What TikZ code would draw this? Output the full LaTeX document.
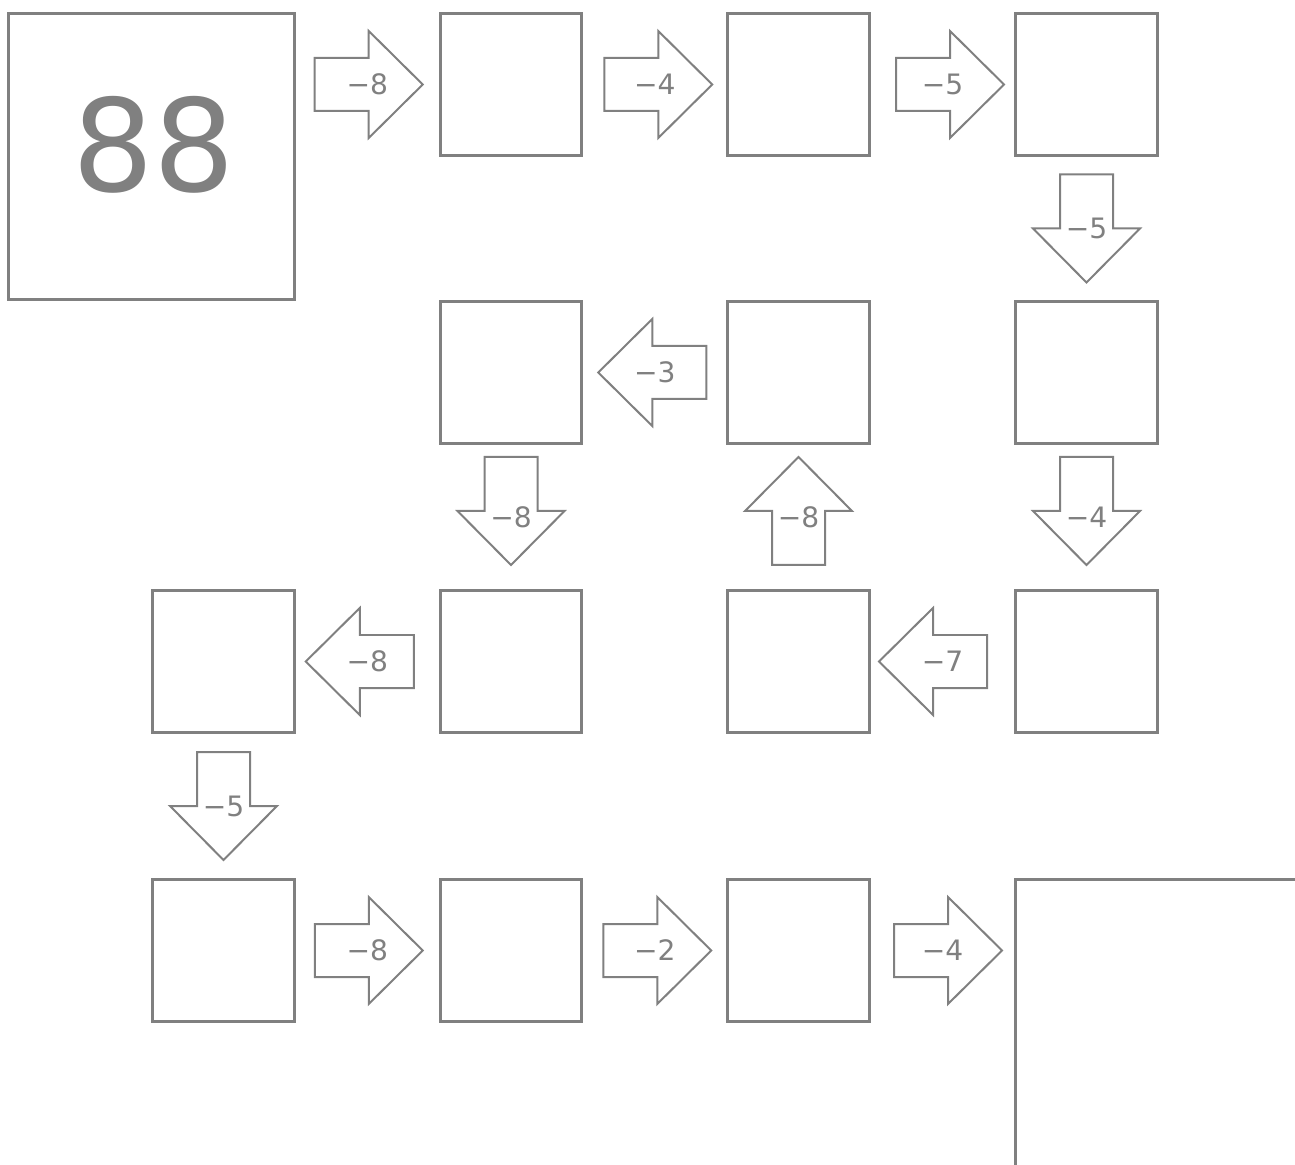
\documentclass[tikz,border=0pt]{standalone}
\usepackage{fontspec}
\setmainfont{DejaVu Sans}
\usetikzlibrary{calc}
\definecolor{gr}{HTML}{808080}

\begin{document}
\begin{tikzpicture}[x=0.02cm, y=-0.02cm]
	\tikzset{bx/.style={rectangle, draw=gr, line width=0.06cm, minimum size=2.84cm, inner sep=0pt},
		bigbx/.style={bx, minimum size=5.72cm},
		lbl/.style={text=gr, inner sep=0pt, font=\fontsize{16}{18}\selectfont},
		pics/blk/.style 2 args={code={
			\draw[gr, line width=0.04cm, fill=white, shift={(#2,0)}] (-54,-26.5) -- (0,-26.5) -- (0,-53.5) -- (54,0)
				-- (0,53.5) -- (0,26.5) -- (-54,26.5) -- cycle;
			\node[lbl] (-lbl) at (0,0) {#1};
		}}};

	\clip (0,0) rectangle (1295,1165);

	\node[bigbx] (big) at (151.5, 156.5) {};
	\node[text=gr, inner sep=0pt, font=\fontsize{73}{80}\selectfont] (bignum) at (154, 145) {88};
	\node[bx] (b01) at (511, 84.5) {};
	\node[bx] (b02) at (798.5, 84.5) {};
	\node[bx] (b03) at (1086.5, 84.5) {};
	\node[bx] (b11) at (511, 372.5) {};
	\node[bx] (b12) at (798.5, 372.5) {};
	\node[bx] (b13) at (1086.5, 372.5) {};
	\node[bx] (b20) at (223.5, 661.5) {};
	\node[bx] (b21) at (511, 661.5) {};
	\node[bx] (b22) at (798.5, 661.5) {};
	\node[bx] (b23) at (1086.5, 661.5) {};
	\node[bx] (b30) at (223.5, 950.5) {};
	\node[bx] (b31) at (511, 950.5) {};
	\node[bx] (b32) at (798.5, 950.5) {};
	\node[bigbx, minimum size=6.2cm] (last) at (1170.5, 1034.5) {};

	\pic (a1) at ($(big.east |- b01.west)!0.5!(b01.west)$) {blk={−8}{1.5}};
	\pic (a2) at ($(b01.east)!0.5!(b02.west)$) {blk={−4}{3.5}};
	\pic (a3) at ($(b02.east)!0.5!(b03.west)$) {blk={−5}{7.5}};
	\pic[rotate=-90] (a4) at ($(b03.south)!0.5!(b13.north)$) {blk={−5}{0}};
	\pic[rotate=180] (a5) at ($(b12.west)!0.5!(b11.east)$) {blk={−3}{2.5}};
	\pic[rotate=-90] (a6) at ($(b11.south)!0.5!(b21.north)$) {blk={−8}{-6}};
	\pic[rotate=90] (a7) at ($(b22.north)!0.5!(b12.south)$) {blk={−8}{6}};
	\pic[rotate=-90] (a8) at ($(b13.south)!0.5!(b23.north)$) {blk={−4}{-6}};
	\pic[rotate=180] (a9) at ($(b23.west)!0.5!(b22.east)$) {blk={−7}{9.5}};
	\pic[rotate=180] (a10) at ($(b21.west)!0.5!(b20.east)$) {blk={−8}{7.5}};
	\pic[rotate=-90] (a11) at ($(b20.south)!0.5!(b30.north)$) {blk={−5}{0}};
	\pic (a12) at ($(b30.east)!0.5!(b31.west)$) {blk={−8}{1.5}};
	\pic (a13) at ($(b31.east)!0.5!(b32.west)$) {blk={−2}{2.5}};
	\pic (a14) at ($(b32.east)!0.5!(last.west |- b32.east)$) {blk={−4}{5.5}};

\end{tikzpicture}
\end{document}
